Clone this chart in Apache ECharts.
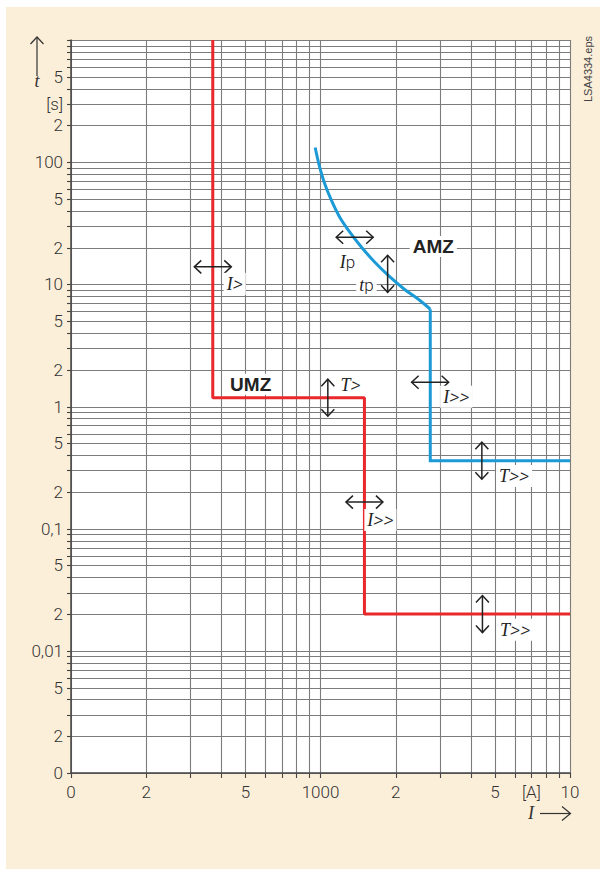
<!DOCTYPE html>
<html><head><meta charset="utf-8">
<script src="https://cdn.jsdelivr.net/npm/echarts@6/dist/echarts.min.js"></script>
<style>html,body{margin:0;padding:0;background:#fff;}#c{width:600px;height:870px;}</style>
</head><body><div id="c"></div>
<script>
// ---- axis ranges ----
const X_MIN = 100, X_MAX = 10000, Y_MIN = 0.001, Y_MAX = 1000;

// ---- grid lines / ticks ----
const xGridValues = [100,200,300,400,500,600,700,800,900,1000,2000,3000,4000,5000,6000,7000,8000,9000,10000];
const yGridValues = [0.001,0.002,0.003,0.004,0.005,0.006,0.007,0.008,0.009,
  0.01,0.02,0.03,0.04,0.05,0.06,0.07,0.08,0.09,
  0.1,0.2,0.3,0.4,0.5,0.6,0.7,0.8,0.9,
  1,2,3,4,5,6,7,8,9,
  10,20,30,40,50,60,70,80,90,
  100,200,300,400,500,600,700,800,900,1000];

// ---- tick labels ----
const xTickValues = [100,200,500,1000,2000,5000,7000,10000];
const xTickLabels = ['0','2','5','1000','2','5','[A]','10'];
const yTickValues = [0.001,0.002,0.005,0.01,0.02,0.05,0.1,0.2,0.5,1,2,5,10,20,50,100,200,300,500];
const yTickLabels = ['0','2','5','0,01','2','5','0,1','2','5','1','2','5','10','2','5','100','2','[s]','5'];

// ---- UMZ (red) characteristic ----
const umzCurrent = [370, 370, 1500, 1500, 10000];
const umzTime    = [1000, 1.18, 1.18, 0.02, 0.02];

// ---- AMZ (blue) characteristic: inverse-time curve part ----
const amzCurveCurrent = [952, 991, 1038, 1104, 1191, 1306, 1455, 1644, 1888, 2168, 2489, 2754];
const amzCurveTime    = [132, 91.9, 67.2, 49.1, 35.8, 27.0, 20.3, 15.3, 11.6, 9.12, 7.45, 6.26];
// ---- AMZ (blue) characteristic: definite-time part ----
const amzStepCurrent = [2754, 2754, 10000];
const amzStepTime    = [6.26, 0.36, 0.36];

// ---- setting arrows ----
const arrowCurrent = [370, 1371, 1858, 1070, 2750, 4433, 1500, 4457];
const arrowTime    = [13.9, 24.3, 12.2, 1.18, 1.58, 0.36, 0.165, 0.02];
const arrowDir     = ['h','h','v','v','h','v','h','v'];

// ---- annotation labels ----
const noteTexts   = ['I>','Ip','tp','AMZ','UMZ','T>','I>>','T>>','I>>','T>>'];
const noteCurrent = [453, 1282, 1528, 2831, 525, 1318, 3499, 5970, 1738, 6026];
const noteTime    = [10.1, 15.3, 9.9, 20.4, 1.52, 1.50, 1.2, 0.27, 0.118, 0.0149];

const SANS = 'Roboto, "Liberation Sans", sans-serif';
const SERIF = '"Liberation Serif", "DejaVu Serif", serif';
const GRID_COLOR = '#7c7c7c';
const TEXT_COLOR = '#333';
const INK = '#222';
const BLUE = '#1b9ad6';

function richNote(t) {
  if (t === 'AMZ' || t === 'UMZ') return '{b|' + t + '}';
  const first = '{i|' + t[0] + '}';
  const rest = t.slice(1);
  if (rest === 'p') return first + '{p|p}';
  return first + '{g|' + rest + '}';
}

const chart = echarts.init(document.getElementById('c'), null, {renderer: 'svg'});

const option = {
  animation: false,
  backgroundColor: '#fff',
  grid: {left: 71, right: 30, top: 40, bottom: 97, show: true, backgroundColor: '#fff', borderWidth: 0, containLabel: false},
  xAxis: {
    type: 'log', logBase: 10, min: X_MIN, max: X_MAX, z: 6,
    axisLine: {show: true, lineStyle: {color: '#444', width: 1.5}},
    axisTick: {show: false}, axisLabel: {show: false}, splitLine: {show: false}, minorSplitLine: {show: false}
  },
  yAxis: {
    type: 'log', logBase: 10, min: Y_MIN, max: Y_MAX, z: 6,
    axisLine: {show: true, lineStyle: {color: '#444', width: 1.5}},
    axisTick: {show: false}, axisLabel: {show: false}, splitLine: {show: false}, minorSplitLine: {show: false}
  },
  graphic: [
    {type: 'rect', z: -100, shape: {x: 6, y: 7, width: 594, height: 862}, style: {fill: '#fcefd9'}},
    // t axis title with arrow
    {type: 'line', z: 10, shape: {x1: 37, y1: 76, x2: 37, y2: 37}, style: {stroke: TEXT_COLOR, lineWidth: 1.2}},
    {type: 'polyline', z: 10, shape: {points: [[30.5, 44], [37, 37], [43.5, 44]]}, style: {stroke: TEXT_COLOR, lineWidth: 1.2, fill: null}},
    {type: 'text', z: 10, x: 37, y: 81, style: {text: 't', font: 'italic 18px ' + SERIF, fill: TEXT_COLOR, align: 'center', verticalAlign: 'middle'}},
    // I axis title with arrow
    {type: 'text', z: 10, x: 531, y: 813, style: {text: 'I', font: 'italic 18px ' + SERIF, fill: TEXT_COLOR, align: 'center', verticalAlign: 'middle'}},
    {type: 'line', z: 10, shape: {x1: 540, y1: 813.5, x2: 570.5, y2: 813.5}, style: {stroke: TEXT_COLOR, lineWidth: 1.2}},
    {type: 'polyline', z: 10, shape: {points: [[562, 806.5], [570.5, 813.5], [562, 820.5]]}, style: {stroke: TEXT_COLOR, lineWidth: 1.2, fill: null}},
    // file tag
    {type: 'text', z: 10, x: 588, y: 69, rotation: Math.PI / 2, style: {text: 'LSA4334.eps', font: '11px "Liberation Sans", sans-serif', fill: '#444', align: 'center', verticalAlign: 'middle'}}
  ],
  series: [
    {
      name: 'vgrid', type: 'custom', clip: false, z: 1, silent: true,
      data: xGridValues.map(v => [v, Y_MIN]),
      renderItem(params, api) {
        const v = api.value(0);
        const top = api.coord([v, Y_MAX]);
        const bot = api.coord([v, Y_MIN]);
        const x = Math.round(bot[0]) + 0.5;
        return {type: 'group', children: [
          {type: 'line', shape: {x1: x, y1: top[1], x2: x, y2: bot[1]}, style: {stroke: GRID_COLOR, lineWidth: 1.1}},
          {type: 'line', shape: {x1: x, y1: bot[1], x2: x, y2: bot[1] + 5}, style: {stroke: '#444', lineWidth: 1.1}}
        ]};
      }
    },
    {
      name: 'hgrid', type: 'custom', clip: false, z: 1, silent: true,
      data: yGridValues.map(v => [X_MIN, v]),
      renderItem(params, api) {
        const v = api.value(1);
        const l = api.coord([X_MIN, v]);
        const r = api.coord([X_MAX, v]);
        const y = Math.round(l[1]) + 0.5;
        return {type: 'group', children: [
          {type: 'line', shape: {x1: l[0], y1: y, x2: r[0], y2: y}, style: {stroke: GRID_COLOR, lineWidth: 1.1}},
          {type: 'line', shape: {x1: l[0] - 4, y1: y, x2: l[0], y2: y}, style: {stroke: '#444', lineWidth: 1.1}}
        ]};
      }
    },
    {
      name: 'xlabels', type: 'custom', clip: false, z: 4, silent: true,
      data: xTickValues.map(v => [v, Y_MIN]),
      renderItem(params, api) {
        const p = api.coord([api.value(0), Y_MIN]);
        return {type: 'text', x: p[0], y: p[1] + 19, style: {
          text: xTickLabels[params.dataIndex], fontFamily: SANS, fontSize: 17, fontWeight: 300,
          fill: TEXT_COLOR, align: 'center', verticalAlign: 'middle'}};
      }
    },
    {
      name: 'ylabels', type: 'custom', clip: false, z: 4, silent: true,
      data: yTickValues.map(v => [X_MIN, v]),
      renderItem(params, api) {
        const p = api.coord([X_MIN, api.value(1)]);
        return {type: 'text', x: p[0] - 8, y: p[1], style: {
          text: yTickLabels[params.dataIndex], fontFamily: SANS, fontSize: 17, fontWeight: 300,
          fill: TEXT_COLOR, align: 'right', verticalAlign: 'middle'}};
      }
    },
    {
      name: 'UMZ', type: 'line', z: 3, symbol: 'none', silent: true,
      data: umzCurrent.map((c, i) => [c, umzTime[i]]),
      lineStyle: {color: '#e8282b', width: 3}
    },
    {
      name: 'AMZ', type: 'line', z: 3, symbol: 'none', silent: true, smooth: 0.35,
      data: amzCurveCurrent.map((c, i) => [c, amzCurveTime[i]]),
      lineStyle: {color: BLUE, width: 3}
    },
    {
      name: 'AMZ ', type: 'line', z: 3, symbol: 'none', silent: true,
      data: amzStepCurrent.map((c, i) => [c, amzStepTime[i]]),
      lineStyle: {color: BLUE, width: 3, join: 'miter'}
    },
    {
      name: 'arrows', type: 'custom', clip: false, z: 5, silent: true,
      data: arrowCurrent.map((c, i) => [c, arrowTime[i]]),
      renderItem(params, api) {
        const p = api.coord([api.value(0), api.value(1)]);
        const d = arrowDir[params.dataIndex];
        const L = 18.5, b = 7, s = 6.5;
        const st = {stroke: INK, lineWidth: 1.5, fill: null};
        if (d === 'h') {
          return {type: 'group', children: [
            {type: 'line', shape: {x1: p[0] - L, y1: p[1], x2: p[0] + L, y2: p[1]}, style: st},
            {type: 'polyline', shape: {points: [[p[0] - L + b, p[1] - s], [p[0] - L, p[1]], [p[0] - L + b, p[1] + s]]}, style: st},
            {type: 'polyline', shape: {points: [[p[0] + L - b, p[1] - s], [p[0] + L, p[1]], [p[0] + L - b, p[1] + s]]}, style: st}
          ]};
        }
        return {type: 'group', children: [
          {type: 'line', shape: {x1: p[0], y1: p[1] - L, x2: p[0], y2: p[1] + L}, style: st},
          {type: 'polyline', shape: {points: [[p[0] - s, p[1] - L + b], [p[0], p[1] - L], [p[0] + s, p[1] - L + b]]}, style: st},
          {type: 'polyline', shape: {points: [[p[0] - s, p[1] + L - b], [p[0], p[1] + L], [p[0] + s, p[1] + L - b]]}, style: st}
        ]};
      }
    },
    {
      name: 'notes', type: 'custom', clip: false, z: 5, silent: true,
      data: noteCurrent.map((c, i) => [c, noteTime[i]]),
      renderItem(params, api) {
        const p = api.coord([api.value(0), api.value(1)]);
        return {type: 'text', x: p[0], y: p[1], style: {
          text: richNote(noteTexts[params.dataIndex]),
          align: 'center', verticalAlign: 'middle',
          backgroundColor: '#fff', padding: [1, 3],
          rich: {
            i: {fontFamily: SERIF, fontStyle: 'italic', fontSize: 18, fill: INK},
            g: {fontFamily: SANS, fontStyle: 'italic', fontSize: 20, fontWeight: 300, fill: INK},
            p: {fontFamily: SANS, fontSize: 17, fontWeight: 300, fill: INK},
            b: {fontFamily: '"Liberation Sans", Arial, sans-serif', fontWeight: 'bold', fontSize: 19, fill: INK}
          }
        }};
      }
    }
  ]
};
chart.setOption(option);
</script>
</body></html>
